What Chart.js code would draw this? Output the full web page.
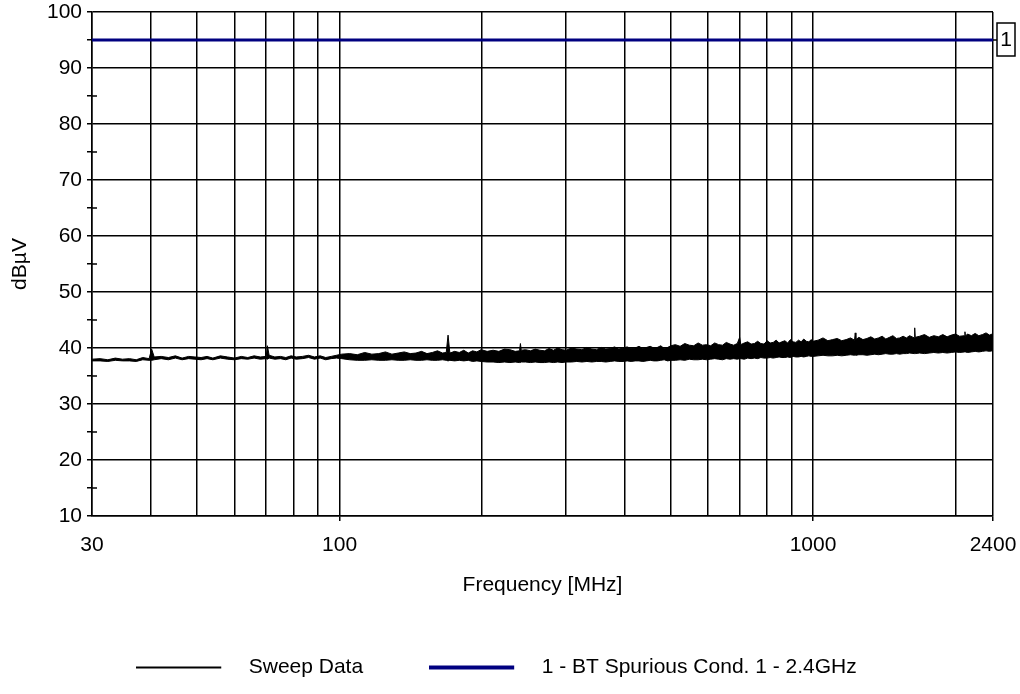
<!DOCTYPE html>
<html>
<head>
<meta charset="utf-8">
<script src="https://cdn.jsdelivr.net/npm/chart.js@4.4.1/dist/chart.umd.min.js"></script>
<style>
  html, body { margin: 0; padding: 0; background: #fff; }
  #wrap { width: 1020px; height: 694px; }
</style>
</head>
<body>
<div id="wrap"><canvas id="chart1" width="1020" height="694"></canvas></div>
<script>
"use strict";

const sweepFreqMHz = [
    30, 31.2, 32.4, 33.6, 34.8, 36, 37.2, 38.4, 39.6, 40.1,
    40.6, 42, 43.5, 45, 46.5, 48, 49.5, 51, 52.5, 54,
    56, 58, 60, 62, 64, 66, 68, 70, 70.4, 71,
    73, 75, 77, 79, 81, 83.5, 86, 88.5, 91, 93.5,
    96, 98.5, 101, 105, 109, 113, 117, 121, 125, 129,
    133, 137, 141, 145, 149, 153, 157, 161, 165, 168,
    169.5, 171, 175, 179, 183, 187, 191, 195, 199, 205,
    211, 217, 223, 229, 235, 240, 241, 242, 247, 253,
    259, 265, 271, 277, 283, 289, 295, 301, 309, 317,
    325, 333, 341, 349, 357, 365, 373, 381, 389, 397,
    405, 413, 421, 429, 437, 445, 453, 461, 469, 477,
    485, 493, 501, 512, 524, 536, 548, 560, 572, 584,
    596, 608, 620, 632, 644, 656, 668, 680, 692, 700,
    704, 716, 728, 740, 752, 764, 776, 788, 800, 812,
    824, 836, 848, 860, 872, 884, 896, 908, 920, 932,
    944, 956, 968, 980, 992, 1000, 1025, 1050, 1075, 1100,
    1125, 1150, 1175, 1200, 1224, 1228, 1232, 1250, 1275, 1300,
    1325, 1350, 1375, 1400, 1425, 1450, 1475, 1500, 1525, 1550,
    1575, 1600, 1636, 1640, 1644, 1680, 1720, 1760, 1800, 1840,
    1880, 1920, 1960, 2000, 2040, 2090, 2094, 2098, 2120, 2160,
    2200, 2240, 2280, 2320, 2360, 2390, 2396, 2400
];

const sweepMax = [
    38.0, 38.1, 37.9, 38.2, 38.0, 38.1, 37.9, 38.3, 38.1, 39.8,
    38.4, 38.5, 38.3, 38.6, 38.2, 38.5, 38.4, 38.3, 38.5, 38.2,
    38.6, 38.4, 38.2, 38.5, 38.3, 38.6, 38.4, 38.5, 40.4, 38.7,
    38.4, 38.5, 38.3, 38.6, 38.4, 38.5, 38.7, 38.4, 38.6, 38.3,
    38.5, 38.7, 38.9, 39.0, 38.8, 39.2, 38.9, 39.0, 39.3, 38.9,
    39.1, 39.3, 39.0, 39.1, 39.4, 39.0, 39.2, 39.5, 39.1, 39.2,
    42.3, 39.1, 39.4, 39.2, 39.6, 39.1, 39.5, 39.3, 39.7, 39.4,
    39.6, 39.4, 39.8, 39.7, 39.4, 39.5, 40.8, 39.6, 39.7, 39.5,
    39.8, 39.6, 39.5, 39.9, 39.6, 40.0, 39.7, 39.6, 40.0, 39.8,
    39.7, 40.1, 39.8, 39.7, 40.1, 39.8, 39.9, 40.2, 39.8, 40.0,
    40.2, 39.9, 40.0, 40.3, 39.9, 40.1, 40.3, 40.0, 40.1, 40.4,
    39.9, 40.1, 40.4, 40.6, 40.3, 40.8, 40.5, 40.4, 40.9, 40.5,
    40.6, 40.4, 40.9, 40.6, 40.5, 41.0, 40.7, 40.5, 40.8, 41.9,
    40.6, 40.9, 41.1, 40.7, 40.8, 41.2, 40.8, 40.7, 41.3, 40.9,
    41.0, 41.4, 40.9, 41.1, 41.3, 40.9, 41.5, 41.1, 41.0, 41.4,
    41.1, 41.6, 41.2, 41.1, 41.5, 41.2, 41.4, 41.8, 41.3, 41.5,
    41.7, 41.3, 41.5, 41.8, 41.4, 42.7, 41.5, 41.9, 41.5, 41.7,
    42.0, 41.6, 41.8, 42.1, 41.6, 41.9, 42.2, 41.7, 41.8, 42.1,
    41.8, 42.2, 41.8, 43.6, 41.9, 42.1, 42.4, 41.9, 42.2, 42.0,
    42.4, 42.0, 42.3, 42.5, 42.1, 42.2, 42.9, 42.1, 42.5, 42.2,
    42.6, 42.2, 42.4, 42.7, 42.3, 42.5, 44.6, 42.2
];

const sweepMin = [
    37.7, 37.7, 37.6, 37.8, 37.7, 37.7, 37.6, 37.9, 37.8, 37.8,
    37.9, 38.1, 37.9, 38.2, 37.9, 38.1, 38.0, 37.9, 38.1, 37.9,
    38.2, 38.0, 37.9, 38.1, 38.0, 38.2, 38.0, 38.1, 38.0, 38.2,
    38.0, 38.1, 37.9, 38.2, 38.0, 38.1, 38.3, 38.0, 38.2, 37.9,
    38.1, 38.2, 38.1, 37.9, 37.8, 37.8, 37.9, 37.8, 37.8, 37.9,
    37.8, 37.8, 37.9, 37.8, 37.8, 37.9, 37.8, 37.8, 37.9, 37.8,
    37.7, 37.8, 37.7, 37.8, 37.7, 37.8, 37.6, 37.7, 37.6, 37.5,
    37.5, 37.4, 37.5, 37.4, 37.5, 37.4, 37.4, 37.5, 37.5, 37.4,
    37.5, 37.4, 37.4, 37.5, 37.4, 37.5, 37.4, 37.5, 37.5, 37.6,
    37.5, 37.6, 37.5, 37.6, 37.6, 37.5, 37.6, 37.7, 37.6, 37.6,
    37.7, 37.6, 37.7, 37.7, 37.6, 37.7, 37.8, 37.7, 37.7, 37.8,
    37.9, 37.7, 37.8, 37.8, 37.9, 37.8, 38.0, 37.9, 37.9, 38.0,
    37.9, 38.0, 38.1, 38.0, 37.9, 38.1, 38.0, 38.1, 38.0, 38.1,
    38.1, 38.0, 38.2, 38.1, 38.2, 38.1, 38.3, 38.2, 38.2, 38.3,
    38.2, 38.3, 38.4, 38.3, 38.3, 38.4, 38.3, 38.5, 38.4, 38.4,
    38.5, 38.4, 38.5, 38.6, 38.5, 38.5, 38.6, 38.7, 38.6, 38.6,
    38.7, 38.6, 38.7, 38.8, 38.7, 38.8, 38.7, 38.8, 38.8, 38.7,
    38.8, 38.9, 38.8, 38.9, 39.0, 38.9, 38.9, 39.0, 38.9, 39.0,
    39.0, 39.1, 39.0, 39.0, 39.0, 39.1, 39.0, 39.1, 39.2, 39.1,
    39.2, 39.1, 39.2, 39.3, 39.2, 39.3, 39.3, 39.3, 39.2, 39.3,
    39.4, 39.3, 39.4, 39.5, 39.4, 39.5, 39.5, 39.5
];

// limit line 1
const limitFreqMHz = [30, 2400];
const limitLevel = [95, 95];
const limitTag = '1';

const xTickValues = [30, 40, 50, 60, 70, 80, 90, 100, 200, 300, 400, 500, 600, 700, 800, 900, 1000, 2000, 2400];
const xTickLabels = [30, 100, 1000, 2400];
const xTickMarks = [100, 1000, 2400];

const legendNames = ['Sweep Data', '1 - BT Spurious Cond. 1 - 2.4GHz'];

const FONT = 'Liberation Sans, Arial, Helvetica, sans-serif';
const NAVY = '#000080';

Chart.defaults.font.family = FONT;
Chart.defaults.font.size = 21;
Chart.defaults.color = '#000';

function legendLine(color, width) {
    const c = document.createElement('canvas');
    c.width = 102;
    c.height = 6;
    const g = c.getContext('2d');
    g.fillStyle = color;
    g.fillRect(0, Math.round((6 - width) / 2), 85, width);
    return c;
}

const legendStyles = {0: legendLine('#000', 2), 2: legendLine(NAVY, 4)};

const minorTicks = {
    id: 'minorTicks',
    beforeDatasetsDraw(chart) {
        const {ctx, chartArea, scales: {y}} = chart;
        ctx.save();
        ctx.strokeStyle = '#000';
        ctx.lineWidth = 1.5;
        y.ticks.forEach(t => {
            if (t.value % 10 !== 0) {
                const py = y.getPixelForValue(t.value);
                ctx.beginPath();
                ctx.moveTo(chartArea.left, py);
                ctx.lineTo(chartArea.left + 5, py);
                ctx.stroke();
            }
        });
        ctx.restore();
    }
};

const limitBox = {
    id: 'limitBox',
    afterDatasetsDraw(chart) {
        const {ctx, chartArea, scales: {y}} = chart;
        const py = y.getPixelForValue(limitLevel[1]);
        const bx = chartArea.right + 4;
        ctx.save();
        ctx.strokeStyle = '#000';
        ctx.lineWidth = 1.5;
        ctx.beginPath();
        ctx.moveTo(chartArea.right, py);
        ctx.lineTo(bx, py);
        ctx.stroke();
        ctx.strokeRect(bx, py - 17, 18, 33);
        ctx.fillStyle = '#000';
        ctx.font = '21px ' + FONT;
        ctx.textAlign = 'center';
        ctx.textBaseline = 'middle';
        ctx.fillText(limitTag, bx + 9, py);
        ctx.restore();
    }
};

const config = {
    type: 'line',
    data: {
        datasets: [{
            label: legendNames[0],
            data: sweepFreqMHz.map((f, i) => ({x: f, y: sweepMax[i]})),
            borderColor: '#000',
            backgroundColor: '#000',
            borderWidth: 1,
            pointRadius: 0,
            tension: 0,
            fill: '+1',
            order: 2
        }, {
            label: 'min',
            data: sweepFreqMHz.map((f, i) => ({x: f, y: sweepMin[i]})),
            borderColor: '#000',
            borderWidth: 1,
            pointRadius: 0,
            tension: 0,
            order: 3
        }, {
            label: legendNames[1],
            data: limitFreqMHz.map((f, i) => ({x: f, y: limitLevel[i]})),
            borderColor: NAVY,
            borderWidth: 3,
            pointRadius: 0,
            order: 1
        }]
    },
    options: {
        responsive: false,
        animation: false,
        parsing: false,
        layout: { padding: { left: 0, right: 27, top: 12, bottom: 6 } },
        plugins: {
            tooltip: { enabled: false },
            legend: {
                position: 'bottom',
                labels: {
                    usePointStyle: true,
                    pointStyleWidth: 102,
                    padding: 66,
                    color: '#000',
                    font: { size: 21 },
                    generateLabels: chart => [0, 2].map(i => ({
                        text: chart.data.datasets[i].label,
                        pointStyle: legendStyles[i],
                        fillStyle: chart.data.datasets[i].borderColor,
                        strokeStyle: chart.data.datasets[i].borderColor,
                        lineWidth: 0,
                        hidden: false,
                        datasetIndex: i
                    }))
                }
            }
        },
        scales: {
            x: {
                type: 'logarithmic',
                min: 30,
                max: 2400,
                afterBuildTicks: s => { s.ticks = xTickValues.map(v => ({value: v})); },
                afterFit: s => {
                    s.height = 75;
                    s.paddingLeft = 0;
                    s.paddingRight = 0;
                },
                ticks: {
                    autoSkip: false,
                    maxRotation: 0,
                    padding: 12,
                    callback: v => xTickLabels.includes(v) ? String(v) : ''
                },
                grid: {
                    color: '#000',
                    lineWidth: 1.5,
                    tickLength: 5,
                    tickColor: c => (c.tick && xTickMarks.includes(c.tick.value)) ? '#000' : 'rgba(0,0,0,0)'
                },
                border: { color: '#000', width: 1.5 },
                title: {
                    display: true,
                    text: 'Frequency [MHz]',
                    padding: { top: 0, bottom: -7 }
                }
            },
            y: {
                min: 10,
                max: 100,
                afterFit: s => {
                    s.width = 92;
                    s.paddingTop = 0;
                    s.paddingBottom = 0;
                },
                ticks: {
                    stepSize: 5,
                    autoSkip: false,
                    padding: 5,
                    callback: v => v % 10 === 0 ? String(v) : ''
                },
                grid: {
                    color: c => (c.tick && c.tick.value % 10 === 0) ? '#000' : 'rgba(0,0,0,0)',
                    lineWidth: 1.5,
                    tickLength: 5,
                    tickColor: '#000'
                },
                border: { color: '#000', width: 1.5 },
                title: {
                    display: true,
                    text: 'dBµV',
                    padding: { top: 8, bottom: 0 }
                }
            }
        }
    },
    plugins: [minorTicks, limitBox]
};

document.addEventListener("DOMContentLoaded", () => {
    const chart1 = new Chart(document.getElementById('chart1'), config);
}, { once: true });
</script>
</body>
</html>
